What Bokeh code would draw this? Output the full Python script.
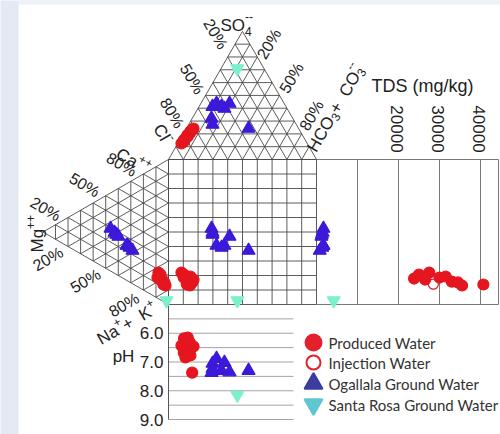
import math
from bokeh.plotting import figure
from bokeh.models import Range1d
from bokeh.core.properties import value
from bokeh.embed import file_html
from bokeh.resources import INLINE

# ---------------- data (percent of meq, TDS mg/kg, pH) ----------------
# Produced Water
pw_cl   = [85.0, 82.5, 82.2, 80.3, 78.0, 77.7, 75.3, 74.2, 72.5, 71.0]
pw_so4  = [12.5, 14.0, 15.0, 16.5, 18.0, 19.0, 20.5, 22.0, 23.0, 24.2]
pw_hco3 = [2.5, 3.5, 2.8, 3.2, 4.0, 3.3, 4.2, 3.8, 4.5, 4.8]
pw_ca   = [18.0, 17.5, 14.2, 15.1, 13.4, 11.8, 11.9, 15.7, 13.6, 14.0]
pw_mg   = [8.0, 6.4, 8.8, 5.6, 4.8, 4.0, 2.4, 7.2, 3.2, 6.4]
pw_na   = [74.0, 76.1, 77.0, 79.3, 81.8, 84.2, 85.7, 77.1, 83.2, 79.6]
pw_tds  = [27500, 25000, 30000, 23800, 33000, 40700, 35500, 31500, 34500, 26500]
pw_ph   = [6.43, 6.18, 6.67, 6.84, 6.15, 6.53, 6.32, 6.77, 7.37, 6.46]
# Injection Water
iw_cl, iw_so4, iw_hco3 = [79.5], [17.0], [3.5]
iw_ca, iw_mg, iw_na = [12.0], [4.0], [84.0]
iw_tds, iw_ph = [28500], [6.6]
# Ogallala Ground Water
og_cl   = [54.9, 56.6, 49.6, 45.7, 42.3, 36.9, 43.5, 33.8]
og_so4  = [32.0, 27.3, 41.3, 43.7, 39.8, 43.7, 41.3, 24.2]
og_hco3 = [13.1, 16.1, 9.1, 10.6, 17.9, 19.4, 15.2, 42.0]
og_ca   = [29.3, 27.6, 28.2, 24.0, 24.4, 27.0, 23.8, 22.9]
og_mg   = [46.2, 41.4, 43.0, 33.4, 32.6, 39.8, 31.0, 28.7]
og_na   = [24.5, 31.0, 28.8, 42.6, 43.0, 33.2, 45.2, 48.4]
og_tds  = [1700, 1300, 1500, 1700, 1600, 1200, 1400, 800]
og_ph   = [7.37, 7.05, 7.23, 6.88, 7.02, 7.35, 7.30, 7.30]
# Santa Rosa Ground Water
sr_cl, sr_so4, sr_hco3 = [18.0], [71.0], [11.0]
sr_ca, sr_mg, sr_na = [2.0], [1.5], [96.5]
sr_tds, sr_ph = [4200], [8.15]

tds_ticks = [10000, 20000, 30000, 40000]
tds_labels = ["", "20000", "30000", "40000"]
ph_lines = [5.5, 6.0, 6.5, 7.0, 7.5, 8.0, 8.5, 9.0]
ph_ticks = [6.0, 7.0, 8.0, 9.0]
pct_labels = ["20%", "50%", "80%"]
legend_names = ["Produced Water", "Injection Water", "Ogallala Ground Water", "Santa Rosa Ground Water"]

# ---------------- geometry (screen pixels, y down) ----------------
W, H = 500, 434
S3 = math.sqrt(3) / 2
SQ_L, SQ_R, SQ_T, SQ_B = 168.0, 316.0, 159.0, 304.0
A_L, A_R = (SQ_L, SQ_T), (SQ_R, SQ_T)
A_TOP = ((SQ_L + SQ_R) / 2, SQ_T - (SQ_R - SQ_L) * S3)
C_T, C_B = (SQ_L, SQ_T), (SQ_L, SQ_B)
C_APX = (SQ_L - (SQ_B - SQ_T) * S3, (SQ_T + SQ_B) / 2)
TDS_R = 498.0
TDS_PX = 41.0 / 10000
PH_PX = 28.75
PH_R = 293.0

def Y(py):
    return H - py

def anion_xy(cl, so4, hco3):
    xs, ys = [], []
    for c, s, h in zip(cl, so4, hco3):
        t = c + s + h
        c, s, h = c / t, s / t, h / t
        xs.append(c * A_L[0] + h * A_R[0] + s * A_TOP[0])
        ys.append(c * A_L[1] + h * A_R[1] + s * A_TOP[1])
    return xs, ys

def cation_xy(ca, mg, na):
    xs, ys = [], []
    for c, m, n in zip(ca, mg, na):
        t = c + m + n
        c, m, n = c / t, m / t, n / t
        xs.append(c * C_T[0] + n * C_B[0] + m * C_APX[0])
        ys.append(c * C_T[1] + n * C_B[1] + m * C_APX[1])
    return xs, ys

def tds_x(v):
    return [SQ_R + t * TDS_PX for t in v]

def ph_y(v):
    return [SQ_B + (q - 5.0) * PH_PX for q in v]

p = figure(width=W, height=H, x_range=Range1d(0, W), y_range=Range1d(0, H),
           output_backend="svg", toolbar_location=None, min_border=0,
           x_axis_type=None, y_axis_type=None, outline_line_color=None,
           background_fill_color="#e3eaf3", border_fill_color="#e3eaf3")
p.grid.visible = False

# background panels
p.quad(left=[18], right=[W], bottom=[Y(4)], top=[Y(0)], fill_color="#eef2f7", line_color=None)
p.quad(left=[18], right=[W], bottom=[0], top=[Y(4)], fill_color="white", line_color=None)

def lerp(a, b, t):
    return (a[0] + (b[0] - a[0]) * t, a[1] + (b[1] - a[1]) * t)

def draw_segs(segs, color, width):
    p.multi_line(xs=[[a[0], b[0]] for a, b in segs], ys=[[Y(a[1]), Y(b[1])] for a, b in segs],
                 line_color=color, line_width=width)

def tri_segs(P0, P1, P2, n=10):
    segs = []
    for k in range(1, n):
        t = k / n
        segs.append((lerp(P0, P1, t), lerp(P0, P2, t)))
        segs.append((lerp(P1, P0, t), lerp(P1, P2, t)))
        segs.append((lerp(P2, P0, t), lerp(P2, P1, t)))
    segs += [(P0, P1), (P1, P2), (P2, P0)]
    return segs

GRID = "#4a4a4a"
draw_segs(tri_segs(A_L, A_R, A_TOP), GRID, 0.9)
draw_segs(tri_segs(C_T, C_B, C_APX), GRID, 0.9)

# central square grid
sq = []
for i in range(11):
    x = SQ_L + (SQ_R - SQ_L) * i / 10
    y = SQ_T + (SQ_B - SQ_T) * i / 10
    sq.append(((x, SQ_T), (x, SQ_B)))
    sq.append(((SQ_L, y), (SQ_R, y)))
draw_segs(sq, GRID, 0.9)

# TDS panel
tds_segs = [((SQ_R, SQ_T), (TDS_R, SQ_T)), ((SQ_R, SQ_B), (TDS_R, SQ_B)), ((TDS_R, SQ_T), (TDS_R, SQ_B))]
tds_segs += [((x, SQ_T), (x, SQ_B)) for x in tds_x(tds_ticks)]
draw_segs(tds_segs, "#6a6a6a", 0.9)

# pH panel
ph_segs = [((SQ_L, y), (PH_R, y)) for y in ph_y(ph_lines)]
draw_segs(ph_segs, "#9a9a9a", 0.9)
draw_segs([((SQ_L, SQ_B), (SQ_L, ph_y([9.0])[0]))], "#555555", 1.0)

# ---------------- markers ----------------
RED, BLUE, CYAN = "#e5161f", "#3c1ad8", "#7cf0cd"

def plot_group(cl, so4, hco3, ca, mg, na, tds, ph, marker, size, fill, line):
    ax, ay = anion_xy(cl, so4, hco3)
    cx, cy = cation_xy(ca, mg, na)
    xs = ax + cx + ax + tds_x(tds) + ax
    ys = ay + cy + cy + cy + ph_y(ph)
    p.scatter(x=xs, y=[Y(v) for v in ys], marker=marker, size=size,
              fill_color=fill, line_color=line, line_width=1.2)

plot_group(iw_cl, iw_so4, iw_hco3, iw_ca, iw_mg, iw_na, iw_tds, iw_ph, "circle", 10, "white", RED)
plot_group(pw_cl, pw_so4, pw_hco3, pw_ca, pw_mg, pw_na, pw_tds, pw_ph, "circle", 11, RED, RED)
plot_group(og_cl, og_so4, og_hco3, og_ca, og_mg, og_na, og_tds, og_ph, "triangle", 13, BLUE, BLUE)
plot_group(sr_cl, sr_so4, sr_hco3, sr_ca, sr_mg, sr_na, sr_tds, sr_ph, "inverted_triangle", 13, CYAN, CYAN)

# ---------------- texts ----------------
FONT = "Liberation Sans"
TXT = "#222222"
EM = {'0': .556, '1': .556, '2': .556, '3': .556, '4': .556, '5': .556, '6': .556, '7': .556,
      '8': .556, '9': .556, '%': .889, 'S': .667, 'O': .778, 'C': .722, 'l': .222, 'H': .722,
      'a': .556, 'g': .556, 'M': .833, 'N': .722, 'K': .667, '+': .584, '-': .333, ' ': .278}

def tw(s, fs):
    return sum(EM.get(c, .556) for c in s) * fs

def lab(txt, cx, cy, ang=0.0, fs=15, align="center", baseline="middle", font=FONT, color=TXT):
    p.text(x=[cx], y=[Y(cy)], text=[txt], angle=math.radians(ang), text_font=value(font),
           text_font_size=f"{fs}px", text_align=align, text_baseline=baseline, text_color=color)

def rich(parts, sx, sy, ang):
    th = math.radians(ang)
    ux, uy = math.cos(th), -math.sin(th)
    vx, vy = -math.sin(th), -math.cos(th)
    adv = 0.0
    for txt, fs, shift, advance in parts:
        px = sx + adv * ux + shift * vx
        py = sy + adv * uy + shift * vy
        lab(txt, px, py, ang, fs, align="left", baseline="alphabetic")
        if advance:
            adv += tw(txt, fs)

PCT = 16
# top triangle
rich([("SO", 17, 0, True), ("4", 12, -6, False), ("--", 12, 9, True)], 220, 25, 0)
for t, (x, y) in zip(pct_labels, [(215, 33.5), (191.5, 78.5), (171.5, 112.5)]):
    lab(t, x, y, -60, PCT)
for t, (x, y) in zip(pct_labels, [(268.5, 43.5), (291, 77.5), (311, 115)]):
    lab(t, x, y, 60, PCT)
rich([("Cl", 17, 0, True), ("-", 12, 8, True)], 157, 125, -60)
rich([("HCO", 17, 0, True), ("3", 12, -4, True), (" + ", 17, 0, True), ("CO", 17, 0, True),
      ("3", 12, -4, False), ("--", 12, 9, True)], 311, 150, 60)

# left triangle
for t, (x, y) in zip(pct_labels, [(45, 208.5), (84, 184.5), (121, 164)]):
    lab(t, x, y, -30, PCT)
for t, (x, y) in zip(pct_labels, [(47.5, 258.5), (85, 280.5), (123.5, 304.5)]):
    lab(t, x, y, 30, PCT)
rich([("Ca", 17, 0, True), ("++", 12, 7, True)], 117, 152, -30)
rich([("Mg", 17, 0, True), ("++", 12, 7, True)], 37, 252, 90)
rich([("Na", 17, 0, True), ("+", 12, 7, True), (" + ", 17, 0, True), ("K", 17, 0, True),
      ("+", 12, 7, True)], 98, 340, 30)

# TDS panel
lab("TDS (mg/kg)", 422, 85, 0, 18)
for t, x in zip(tds_labels, tds_x(tds_ticks)):
    if t:
        lab(t, x - 2, 128.5, -90, 17)

# pH panel
for v, y in zip(ph_ticks, ph_y(ph_ticks)):
    lab(f"{v:.1f}", 163, y, 0, 17, align="right")
lab("pH", 123, 356, 0, 17)

# legend
leg_y = [342, 362, 383, 404]
leg_style = [("circle", 16, "#e3202c", "#e3202c"), ("circle", 14, "white", "#e3202c"),
             ("triangle", 18, "#3b3c9e", "#3b3c9e"), ("inverted_triangle", 18, "#5fc6d2", "#5fc6d2")]
for name, y, (mk, sz, fc, lc) in zip(legend_names, leg_y, leg_style):
    p.scatter(x=[313], y=[Y(y)], marker=mk, size=sz, fill_color=fc, line_color=lc, line_width=2)
    lab(name, 328, y, 0, 15, align="left", font="Lato", color="#333333")

open("out.html", "w").write(file_html(p, INLINE))
